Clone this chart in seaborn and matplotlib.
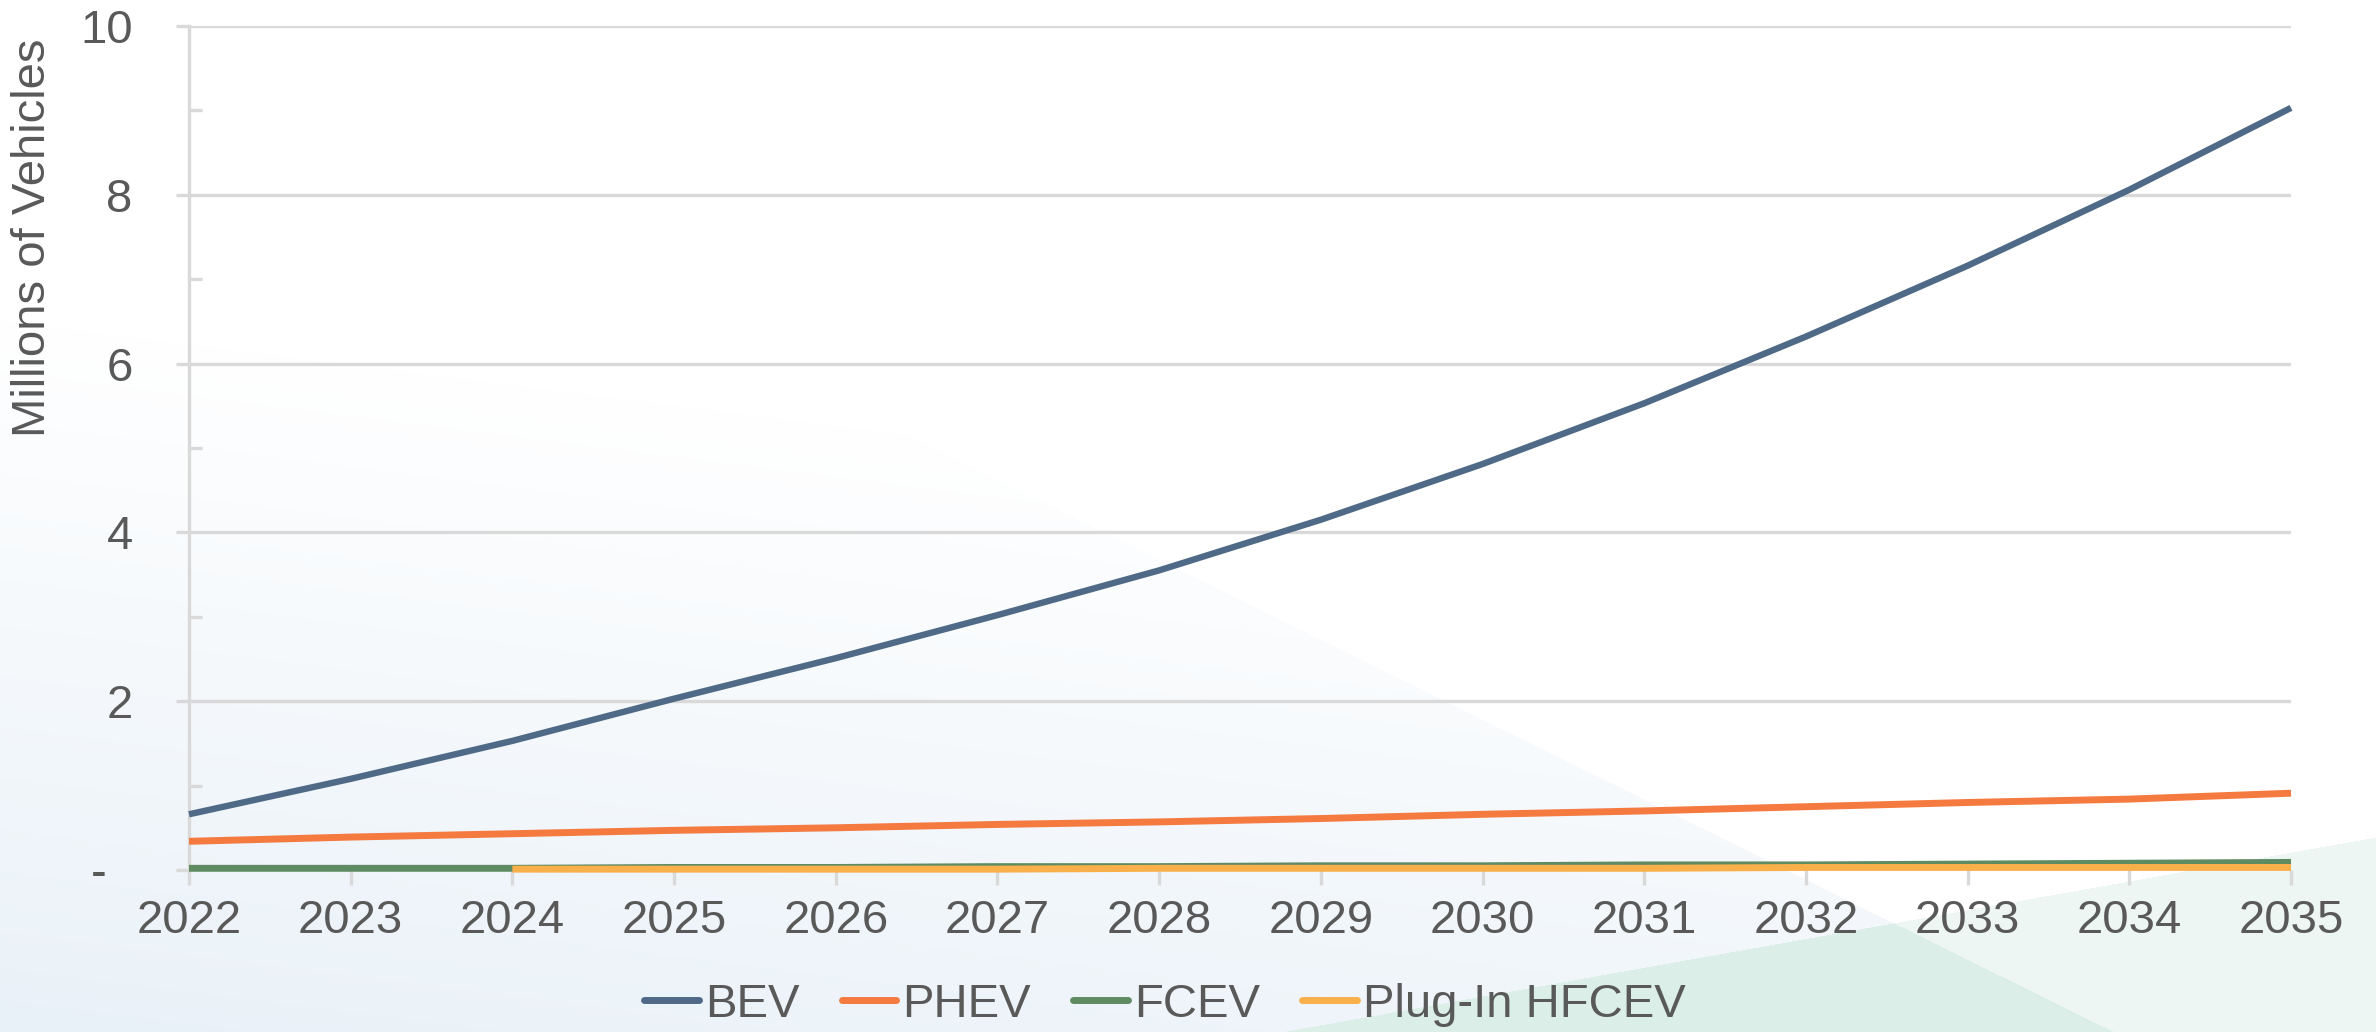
import numpy as np
import pandas as pd
import matplotlib
matplotlib.use("Agg")
import matplotlib.pyplot as plt
import seaborn as sns
from matplotlib.lines import Line2D

# ---------------- data ----------------
years = list(range(2022, 2036))
bev = [0.66, 1.08, 1.53, 2.03, 2.51, 3.02, 3.55, 4.15, 4.81, 5.53, 6.32, 7.16, 8.06, 9.03]
phev = [0.34, 0.39, 0.43, 0.47, 0.50, 0.54, 0.57, 0.61, 0.66, 0.70, 0.75, 0.80, 0.84, 0.91]
fcev = [0.02, 0.02, 0.02, 0.03, 0.03, 0.04, 0.04, 0.05, 0.05, 0.06, 0.06, 0.07, 0.08, 0.09]
plugin_hfcev = [np.nan, np.nan, 0.01, 0.01, 0.01, 0.01, 0.02, 0.02, 0.02, 0.02, 0.03, 0.03, 0.03, 0.03]
series_names = ["BEV", "PHEV", "FCEV", "Plug-In HFCEV"]
series_colors = ["#4f6a86", "#f47a40", "#5f8b62", "#f9b04b"]
y_ticks = [0, 2, 4, 6, 8, 10]
y_tick_labels = ["-  ", "2", "4", "6", "8", "10"]
y_label = "Millions of Vehicles"

df = pd.DataFrame({"Year": years, "BEV": bev, "PHEV": phev, "FCEV": fcev,
                   "Plug-In HFCEV": plugin_hfcev})
long = df.melt(id_vars="Year", var_name="Series", value_name="Value").dropna()

# ---------------- style ----------------
sns.set_theme(style="white")
plt.rcParams["font.family"] = ["Liberation Sans", "DejaVu Sans"]
TXT = "#595959"
GRID = "#d9d9d9"
FS = 34

W, H = 2376, 1032
fig = plt.figure(figsize=(W / 100, H / 100), dpi=100)
fig.patch.set_facecolor("white")

# ---------------- background (slide decoration) ----------------
bg = fig.add_axes([0, 0, 1, 1], zorder=-10)
yy, xx = np.mgrid[0:H, 0:W].astype(float)
img = np.ones((H, W, 3))
left_of_A = xx < 1700 + (yy - 827) / 0.495
below_B = yy > 837 + (2376 - xx) * 0.178
t = np.clip((yy - 620 + 300 * (1 - xx / W)) / (H - 320), 0, 1)
tint = np.array([233, 241, 248]) / 255.0
for c in range(3):
    img[..., c] = np.where(left_of_A, 1 - t * (1 - tint[c]), 1.0)
dark_green = np.array([219, 238, 231]) / 255.0
light_green = np.array([237, 246, 242]) / 255.0
img[left_of_A & below_B] = dark_green
img[(~left_of_A) & below_B] = light_green
bg.imshow(img, extent=[0, 1, 0, 1], aspect="auto", origin="upper", interpolation="bilinear")
bg.set_xlim(0, 1)
bg.set_ylim(0, 1)
bg.axis("off")

# ---------------- main axes ----------------
ax = fig.add_axes([189 / W, 1 - 870 / H, (2291 - 189) / W, (870 - 26) / H])
ax.patch.set_alpha(0)

widths = {"BEV": 4.6, "PHEV": 5.0, "FCEV": 5.0, "Plug-In HFCEV": 5.0}
for name, col in zip(series_names, series_colors):
    sub = long[long["Series"] == name]
    sns.lineplot(data=sub, x="Year", y="Value", color=col, linewidth=widths[name],
                 ax=ax, legend=False, solid_capstyle="butt", solid_joinstyle="round",
                 clip_on=False, zorder=3)

ax.set_xlim(2022, 2035)
ax.set_ylim(0, 10)
ax.set_xticks(years)
ax.set_xticklabels([str(y) for y in years])
ax.set_yticks(y_ticks)
ax.set_yticklabels(y_tick_labels)
ax.set_yticks([1, 3, 5, 7, 9], minor=True)
ax.set_xlabel("")
ax.set_ylabel("")

ax.grid(False)
ax.yaxis.grid(True, which="major", color=GRID, linewidth=2.4, zorder=0)
ax.set_axisbelow(True)
for s in ["top", "right", "bottom"]:
    ax.spines[s].set_visible(False)
ax.spines["left"].set_color(GRID)
ax.spines["left"].set_linewidth(2.4)

ax.tick_params(axis="y", which="major", direction="out", length=9.5, width=2.4,
               color=GRID, pad=31, labelsize=FS, labelcolor=TXT, left=True)
ax.tick_params(axis="y", which="minor", direction="in", length=9, width=2.4,
               color=GRID, left=True)
ax.tick_params(axis="x", which="major", direction="out", length=11, width=2.4,
               color=GRID, pad=10, labelsize=FS, labelcolor=TXT, bottom=True)

fig.text(33 / W, 1 - 238 / H, y_label, rotation=90, ha="center", va="center",
         fontsize=34, color=TXT)

# ---------------- legend ----------------
handles = [Line2D([0], [0], color=c, linewidth=5.0, solid_capstyle="round")
           for c in series_colors]
fig.legend(handles, series_names, loc="center", bbox_to_anchor=(1165 / W, 1 - 1005 / H),
           ncol=4, frameon=False, fontsize=FS, labelcolor=TXT, handlelength=1.15,
           handletextpad=0.13, columnspacing=0.9, borderaxespad=0, borderpad=0)

fig.savefig("out.png", dpi=100)
